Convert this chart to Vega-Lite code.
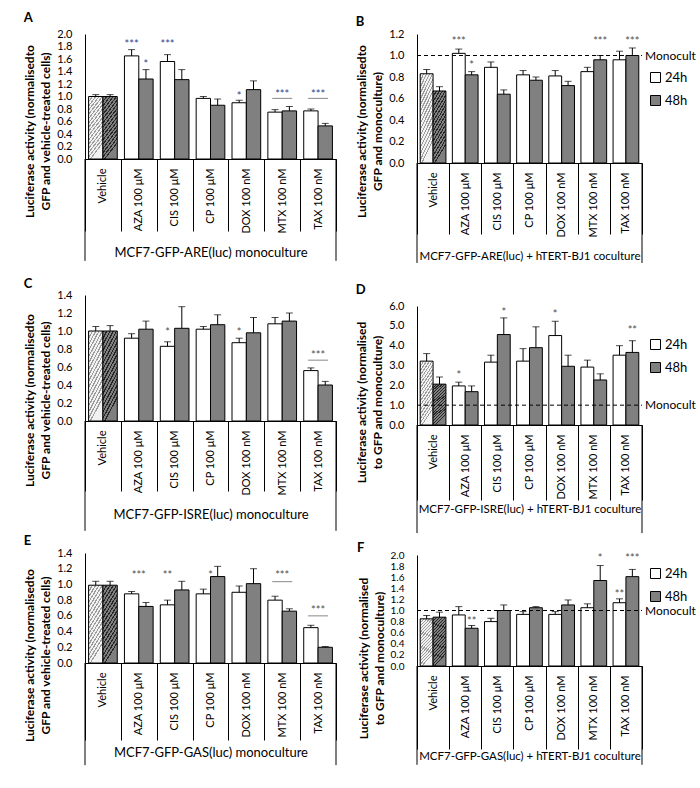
{
"$schema": "https://vega.github.io/schema/vega-lite/v6.json",
"background": "white",
"padding": {"left": 23, "top": 12, "right": 0, "bottom": 0},
"datasets": {"d": [
{"k":"bar","p":"A","cat":"Vehicle","t":"24h","v":1.0,"err":1.03},
{"k":"bar","p":"A","cat":"Vehicle","t":"48h","v":1.0,"err":1.03},
{"k":"bar","p":"A","cat":"AZA 100 μM","t":"24h","v":1.65,"err":1.75},
{"k":"bar","p":"A","cat":"AZA 100 μM","t":"48h","v":1.28,"err":1.43},
{"k":"bar","p":"A","cat":"CIS 100 μM","t":"24h","v":1.56,"err":1.67},
{"k":"bar","p":"A","cat":"CIS 100 μM","t":"48h","v":1.27,"err":1.43},
{"k":"bar","p":"A","cat":"CP 100 μM","t":"24h","v":0.97,"err":1.0},
{"k":"bar","p":"A","cat":"CP 100 μM","t":"48h","v":0.86,"err":0.96},
{"k":"bar","p":"A","cat":"DOX 100 nM","t":"24h","v":0.9,"err":0.94},
{"k":"bar","p":"A","cat":"DOX 100 nM","t":"48h","v":1.11,"err":1.25},
{"k":"bar","p":"A","cat":"MTX 100 nM","t":"24h","v":0.75,"err":0.79},
{"k":"bar","p":"A","cat":"MTX 100 nM","t":"48h","v":0.77,"err":0.84},
{"k":"bar","p":"A","cat":"TAX 100 nM","t":"24h","v":0.77,"err":0.8},
{"k":"bar","p":"A","cat":"TAX 100 nM","t":"48h","v":0.53,"err":0.57},
{"k":"star","p":"A","cat":"AZA 100 μM","t":"24h","label":"***","y":1.88},
{"k":"star","p":"A","cat":"AZA 100 μM","t":"48h","label":"*","y":1.56},
{"k":"star","p":"A","cat":"CIS 100 μM","t":"24h","label":"***","y":1.88},
{"k":"star","p":"A","cat":"DOX 100 nM","t":"24h","label":"*","y":1.04},
{"k":"mid","p":"A","cat":"MTX 100 nM","label":"***","y":1.07},
{"k":"mid","p":"A","cat":"TAX 100 nM","label":"***","y":1.07},
{"k":"sig","p":"A","cat":"MTX 100 nM","y":0.97},
{"k":"sig","p":"A","cat":"TAX 100 nM","y":0.97},

{"k":"bar","p":"B","cat":"Vehicle","t":"24h","v":0.83,"err":0.87},
{"k":"bar","p":"B","cat":"Vehicle","t":"48h","v":0.67,"err":0.71},
{"k":"bar","p":"B","cat":"AZA 100 μM","t":"24h","v":1.02,"err":1.06},
{"k":"bar","p":"B","cat":"AZA 100 μM","t":"48h","v":0.82,"err":0.85},
{"k":"bar","p":"B","cat":"CIS 100 μM","t":"24h","v":0.89,"err":0.94},
{"k":"bar","p":"B","cat":"CIS 100 μM","t":"48h","v":0.64,"err":0.68},
{"k":"bar","p":"B","cat":"CP 100 μM","t":"24h","v":0.82,"err":0.86},
{"k":"bar","p":"B","cat":"CP 100 μM","t":"48h","v":0.77,"err":0.8},
{"k":"bar","p":"B","cat":"DOX 100 nM","t":"24h","v":0.81,"err":0.86},
{"k":"bar","p":"B","cat":"DOX 100 nM","t":"48h","v":0.72,"err":0.76},
{"k":"bar","p":"B","cat":"MTX 100 nM","t":"24h","v":0.85,"err":0.89},
{"k":"bar","p":"B","cat":"MTX 100 nM","t":"48h","v":0.96,"err":1.0},
{"k":"bar","p":"B","cat":"TAX 100 nM","t":"24h","v":0.96,"err":1.04},
{"k":"bar","p":"B","cat":"TAX 100 nM","t":"48h","v":1.0,"err":1.07},
{"k":"star","p":"B","cat":"AZA 100 μM","t":"24h","label":"***","y":1.15},
{"k":"star","p":"B","cat":"AZA 100 μM","t":"48h","label":"*","y":0.93},
{"k":"star","p":"B","cat":"MTX 100 nM","t":"48h","label":"***","y":1.15},
{"k":"star","p":"B","cat":"TAX 100 nM","t":"48h","label":"***","y":1.15},

{"k":"bar","p":"C","cat":"Vehicle","t":"24h","v":1.0,"err":1.05},
{"k":"bar","p":"C","cat":"Vehicle","t":"48h","v":1.0,"err":1.06},
{"k":"bar","p":"C","cat":"AZA 100 μM","t":"24h","v":0.92,"err":0.97},
{"k":"bar","p":"C","cat":"AZA 100 μM","t":"48h","v":1.02,"err":1.11},
{"k":"bar","p":"C","cat":"CIS 100 μM","t":"24h","v":0.83,"err":0.88},
{"k":"bar","p":"C","cat":"CIS 100 μM","t":"48h","v":1.03,"err":1.27},
{"k":"bar","p":"C","cat":"CP 100 μM","t":"24h","v":1.02,"err":1.05},
{"k":"bar","p":"C","cat":"CP 100 μM","t":"48h","v":1.07,"err":1.18},
{"k":"bar","p":"C","cat":"DOX 100 nM","t":"24h","v":0.87,"err":0.92},
{"k":"bar","p":"C","cat":"DOX 100 nM","t":"48h","v":0.98,"err":1.15},
{"k":"bar","p":"C","cat":"MTX 100 nM","t":"24h","v":1.08,"err":1.15},
{"k":"bar","p":"C","cat":"MTX 100 nM","t":"48h","v":1.11,"err":1.2},
{"k":"bar","p":"C","cat":"TAX 100 nM","t":"24h","v":0.56,"err":0.59},
{"k":"bar","p":"C","cat":"TAX 100 nM","t":"48h","v":0.4,"err":0.44},
{"k":"star","p":"C","cat":"CIS 100 μM","t":"24h","label":"*","y":1.01},
{"k":"star","p":"C","cat":"DOX 100 nM","t":"24h","label":"*","y":1.01},
{"k":"mid","p":"C","cat":"TAX 100 nM","label":"***","y":0.76},
{"k":"sig","p":"C","cat":"TAX 100 nM","y":0.676},

{"k":"bar","p":"D","cat":"Vehicle","t":"24h","v":3.22,"err":3.6},
{"k":"bar","p":"D","cat":"Vehicle","t":"48h","v":2.06,"err":2.42},
{"k":"bar","p":"D","cat":"AZA 100 μM","t":"24h","v":1.97,"err":2.16},
{"k":"bar","p":"D","cat":"AZA 100 μM","t":"48h","v":1.68,"err":1.97},
{"k":"bar","p":"D","cat":"CIS 100 μM","t":"24h","v":3.17,"err":3.52},
{"k":"bar","p":"D","cat":"CIS 100 μM","t":"48h","v":4.56,"err":5.4},
{"k":"bar","p":"D","cat":"CP 100 μM","t":"24h","v":3.22,"err":3.85},
{"k":"bar","p":"D","cat":"CP 100 μM","t":"48h","v":3.9,"err":4.95},
{"k":"bar","p":"D","cat":"DOX 100 nM","t":"24h","v":4.51,"err":5.23},
{"k":"bar","p":"D","cat":"DOX 100 nM","t":"48h","v":2.96,"err":3.52},
{"k":"bar","p":"D","cat":"MTX 100 nM","t":"24h","v":2.92,"err":3.27},
{"k":"bar","p":"D","cat":"MTX 100 nM","t":"48h","v":2.27,"err":2.58},
{"k":"bar","p":"D","cat":"TAX 100 nM","t":"24h","v":3.52,"err":4.0},
{"k":"bar","p":"D","cat":"TAX 100 nM","t":"48h","v":3.66,"err":4.25},
{"k":"star","p":"D","cat":"AZA 100 μM","t":"24h","label":"*","y":2.6},
{"k":"star","p":"D","cat":"CIS 100 μM","t":"48h","label":"*","y":5.8},
{"k":"star","p":"D","cat":"DOX 100 nM","t":"24h","label":"*","y":5.7},
{"k":"star","p":"D","cat":"TAX 100 nM","t":"48h","label":"**","y":4.87},

{"k":"bar","p":"E","cat":"Vehicle","t":"24h","v":0.99,"err":1.04},
{"k":"bar","p":"E","cat":"Vehicle","t":"48h","v":0.99,"err":1.04},
{"k":"bar","p":"E","cat":"AZA 100 μM","t":"24h","v":0.88,"err":0.91},
{"k":"bar","p":"E","cat":"AZA 100 μM","t":"48h","v":0.72,"err":0.77},
{"k":"bar","p":"E","cat":"CIS 100 μM","t":"24h","v":0.74,"err":0.8},
{"k":"bar","p":"E","cat":"CIS 100 μM","t":"48h","v":0.93,"err":1.04},
{"k":"bar","p":"E","cat":"CP 100 μM","t":"24h","v":0.88,"err":0.94},
{"k":"bar","p":"E","cat":"CP 100 μM","t":"48h","v":1.1,"err":1.23},
{"k":"bar","p":"E","cat":"DOX 100 nM","t":"24h","v":0.9,"err":0.98},
{"k":"bar","p":"E","cat":"DOX 100 nM","t":"48h","v":1.01,"err":1.2},
{"k":"bar","p":"E","cat":"MTX 100 nM","t":"24h","v":0.8,"err":0.85},
{"k":"bar","p":"E","cat":"MTX 100 nM","t":"48h","v":0.66,"err":0.69},
{"k":"bar","p":"E","cat":"TAX 100 nM","t":"24h","v":0.45,"err":0.48},
{"k":"bar","p":"E","cat":"TAX 100 nM","t":"48h","v":0.2,"err":0.21},
{"k":"mid","p":"E","cat":"AZA 100 μM","label":"***","y":1.14},
{"k":"star","p":"E","cat":"CIS 100 μM","t":"24h","label":"**","y":1.14},
{"k":"mid","p":"E","cat":"CP 100 μM","label":"*","y":1.14},
{"k":"mid","p":"E","cat":"MTX 100 nM","label":"***","y":1.14},
{"k":"mid","p":"E","cat":"TAX 100 nM","label":"***","y":0.7},
{"k":"sig","p":"E","cat":"MTX 100 nM","y":1.035},
{"k":"sig","p":"E","cat":"TAX 100 nM","y":0.6},

{"k":"bar","p":"F","cat":"Vehicle","t":"24h","v":0.85,"err":0.91},
{"k":"bar","p":"F","cat":"Vehicle","t":"48h","v":0.88,"err":0.97},
{"k":"bar","p":"F","cat":"AZA 100 μM","t":"24h","v":0.92,"err":1.07},
{"k":"bar","p":"F","cat":"AZA 100 μM","t":"48h","v":0.68,"err":0.73},
{"k":"bar","p":"F","cat":"CIS 100 μM","t":"24h","v":0.8,"err":0.86},
{"k":"bar","p":"F","cat":"CIS 100 μM","t":"48h","v":1.0,"err":1.1},
{"k":"bar","p":"F","cat":"CP 100 μM","t":"24h","v":0.93,"err":0.98},
{"k":"bar","p":"F","cat":"CP 100 μM","t":"48h","v":1.05,"err":1.07},
{"k":"bar","p":"F","cat":"DOX 100 nM","t":"24h","v":0.93,"err":0.98},
{"k":"bar","p":"F","cat":"DOX 100 nM","t":"48h","v":1.1,"err":1.19},
{"k":"bar","p":"F","cat":"MTX 100 nM","t":"24h","v":1.05,"err":1.12},
{"k":"bar","p":"F","cat":"MTX 100 nM","t":"48h","v":1.54,"err":1.81},
{"k":"bar","p":"F","cat":"TAX 100 nM","t":"24h","v":1.14,"err":1.21},
{"k":"bar","p":"F","cat":"TAX 100 nM","t":"48h","v":1.61,"err":1.74},
{"k":"star","p":"F","cat":"AZA 100 μM","t":"48h","label":"**","y":0.85},
{"k":"star","p":"F","cat":"MTX 100 nM","t":"48h","label":"*","y":1.99},
{"k":"star","p":"F","cat":"TAX 100 nM","t":"24h","label":"**","y":1.33},
{"k":"star","p":"F","cat":"TAX 100 nM","t":"48h","label":"***","y":1.99}
]},
"spacing": 18,
"resolve": {"scale": {"x": "independent", "y": "independent", "xOffset": "independent", "fill": "independent"}, "legend": {"fill": "independent"}},
"hconcat": [
{"spacing": 3,
 "resolve": {"scale": {"x": "independent", "y": "independent", "xOffset": "independent", "fill": "independent"}, "legend": {"fill": "independent"}},
 "vconcat": [
 {"spacing": 16,
  "resolve": {"scale": {"x": "independent", "y": "independent", "xOffset": "independent", "fill": "independent"}, "legend": {"fill": "independent"}},
  "vconcat": [
{
"width": 251, "height": 125,
"title": {"text": "A", "offset": 3},
"data": {"name": "d"},
"transform": [{"filter": "datum.p === 'A'"}],
"encoding": {"x": {"field": "cat", "type": "nominal", "scale": {"domain": ["Vehicle","AZA 100 μM","CIS 100 μM","CP 100 μM","DOX 100 nM","MTX 100 nM","TAX 100 nM"], "paddingInner": 0, "paddingOuter": 0}, "axis": {"title": "MCF7-GFP-ARE(luc) monoculture", "titleFontSize": 13, "tickSize": 72, "labelPadding": -63, "titlePadding": 13, "labelAngle": -90, "tickBand": "extent", "labelOverlap": false}}},
"layer": [
{"transform": [{"filter": "datum.k === 'bar' && datum.cat !== 'Vehicle'"}], "mark": {"type": "bar", "stroke": "#000", "strokeWidth": 1},
 "encoding": {"xOffset": {"field": "t", "type": "nominal", "scale": {"domain": ["24h","48h"], "paddingInner": 0, "paddingOuter": 0.25}},
  "y": {"field": "v", "type": "quantitative", "scale": {"domain": [0, 2]}, "axis": {"title": ["Luciferase activity (normalisedto", "GFP and vehicle-treated cells)"], "titleY": 97, "tickCount": 30, "labelOverlap": false, "values": [0,0.2,0.4,0.6,0.8,1,1.2,1.4,1.6,1.8,2]}},
  "fill": {"field": "t", "type": "nominal", "scale": {"domain": ["24h","48h"], "range": ["#ffffff","#808080"]}, "legend": null}}},
{"transform": [{"filter": "datum.k === 'bar' && datum.cat === 'Vehicle' && datum.t === '24h'"}], "mark": {"type": "bar", "stroke": "#000", "strokeWidth": 1, "fill": {"gradient": "linear", "x1": 0.3, "y1": 1, "x2": 0, "y2": 0, "stops": [{"offset":0,"color":"#f2f2f2"},{"offset":0.0375,"color":"#f2f2f2"},{"offset":0.0375,"color":"#9c9c9c"},{"offset":0.0625,"color":"#9c9c9c"},{"offset":0.0625,"color":"#f2f2f2"},{"offset":0.1,"color":"#f2f2f2"},{"offset":0.1,"color":"#9c9c9c"},{"offset":0.125,"color":"#9c9c9c"},{"offset":0.125,"color":"#f2f2f2"},{"offset":0.1625,"color":"#f2f2f2"},{"offset":0.1625,"color":"#9c9c9c"},{"offset":0.1875,"color":"#9c9c9c"},{"offset":0.1875,"color":"#f2f2f2"},{"offset":0.225,"color":"#f2f2f2"},{"offset":0.225,"color":"#9c9c9c"},{"offset":0.25,"color":"#9c9c9c"},{"offset":0.25,"color":"#f2f2f2"},{"offset":0.2875,"color":"#f2f2f2"},{"offset":0.2875,"color":"#9c9c9c"},{"offset":0.3125,"color":"#9c9c9c"},{"offset":0.3125,"color":"#f2f2f2"},{"offset":0.35,"color":"#f2f2f2"},{"offset":0.35,"color":"#9c9c9c"},{"offset":0.375,"color":"#9c9c9c"},{"offset":0.375,"color":"#f2f2f2"},{"offset":0.4125,"color":"#f2f2f2"},{"offset":0.4125,"color":"#9c9c9c"},{"offset":0.4375,"color":"#9c9c9c"},{"offset":0.4375,"color":"#f2f2f2"},{"offset":0.475,"color":"#f2f2f2"},{"offset":0.475,"color":"#9c9c9c"},{"offset":0.5,"color":"#9c9c9c"},{"offset":0.5,"color":"#f2f2f2"},{"offset":0.5375,"color":"#f2f2f2"},{"offset":0.5375,"color":"#9c9c9c"},{"offset":0.5625,"color":"#9c9c9c"},{"offset":0.5625,"color":"#f2f2f2"},{"offset":0.6,"color":"#f2f2f2"},{"offset":0.6,"color":"#9c9c9c"},{"offset":0.625,"color":"#9c9c9c"},{"offset":0.625,"color":"#f2f2f2"},{"offset":0.6625,"color":"#f2f2f2"},{"offset":0.6625,"color":"#9c9c9c"},{"offset":0.6875,"color":"#9c9c9c"},{"offset":0.6875,"color":"#f2f2f2"},{"offset":0.725,"color":"#f2f2f2"},{"offset":0.725,"color":"#9c9c9c"},{"offset":0.75,"color":"#9c9c9c"},{"offset":0.75,"color":"#f2f2f2"},{"offset":0.7875,"color":"#f2f2f2"},{"offset":0.7875,"color":"#9c9c9c"},{"offset":0.8125,"color":"#9c9c9c"},{"offset":0.8125,"color":"#f2f2f2"},{"offset":0.85,"color":"#f2f2f2"},{"offset":0.85,"color":"#9c9c9c"},{"offset":0.875,"color":"#9c9c9c"},{"offset":0.875,"color":"#f2f2f2"},{"offset":0.9125,"color":"#f2f2f2"},{"offset":0.9125,"color":"#9c9c9c"},{"offset":0.9375,"color":"#9c9c9c"},{"offset":0.9375,"color":"#f2f2f2"},{"offset":0.975,"color":"#f2f2f2"},{"offset":0.975,"color":"#9c9c9c"},{"offset":1,"color":"#9c9c9c"}]}},
 "encoding": {"xOffset": {"field": "t", "type": "nominal"}, "y": {"field": "v", "type": "quantitative"}}},
{"transform": [{"filter": "datum.k === 'bar' && datum.cat === 'Vehicle' && datum.t === '48h'"}], "mark": {"type": "bar", "stroke": "#000", "strokeWidth": 1, "fill": {"gradient": "linear", "x1": 0.3, "y1": 1, "x2": 0, "y2": 0, "stops": [{"offset":0,"color":"#7f7f7f"},{"offset":0.0375,"color":"#7f7f7f"},{"offset":0.0375,"color":"#262626"},{"offset":0.0625,"color":"#262626"},{"offset":0.0625,"color":"#7f7f7f"},{"offset":0.1,"color":"#7f7f7f"},{"offset":0.1,"color":"#262626"},{"offset":0.125,"color":"#262626"},{"offset":0.125,"color":"#7f7f7f"},{"offset":0.1625,"color":"#7f7f7f"},{"offset":0.1625,"color":"#262626"},{"offset":0.1875,"color":"#262626"},{"offset":0.1875,"color":"#7f7f7f"},{"offset":0.225,"color":"#7f7f7f"},{"offset":0.225,"color":"#262626"},{"offset":0.25,"color":"#262626"},{"offset":0.25,"color":"#7f7f7f"},{"offset":0.2875,"color":"#7f7f7f"},{"offset":0.2875,"color":"#262626"},{"offset":0.3125,"color":"#262626"},{"offset":0.3125,"color":"#7f7f7f"},{"offset":0.35,"color":"#7f7f7f"},{"offset":0.35,"color":"#262626"},{"offset":0.375,"color":"#262626"},{"offset":0.375,"color":"#7f7f7f"},{"offset":0.4125,"color":"#7f7f7f"},{"offset":0.4125,"color":"#262626"},{"offset":0.4375,"color":"#262626"},{"offset":0.4375,"color":"#7f7f7f"},{"offset":0.475,"color":"#7f7f7f"},{"offset":0.475,"color":"#262626"},{"offset":0.5,"color":"#262626"},{"offset":0.5,"color":"#7f7f7f"},{"offset":0.5375,"color":"#7f7f7f"},{"offset":0.5375,"color":"#262626"},{"offset":0.5625,"color":"#262626"},{"offset":0.5625,"color":"#7f7f7f"},{"offset":0.6,"color":"#7f7f7f"},{"offset":0.6,"color":"#262626"},{"offset":0.625,"color":"#262626"},{"offset":0.625,"color":"#7f7f7f"},{"offset":0.6625,"color":"#7f7f7f"},{"offset":0.6625,"color":"#262626"},{"offset":0.6875,"color":"#262626"},{"offset":0.6875,"color":"#7f7f7f"},{"offset":0.725,"color":"#7f7f7f"},{"offset":0.725,"color":"#262626"},{"offset":0.75,"color":"#262626"},{"offset":0.75,"color":"#7f7f7f"},{"offset":0.7875,"color":"#7f7f7f"},{"offset":0.7875,"color":"#262626"},{"offset":0.8125,"color":"#262626"},{"offset":0.8125,"color":"#7f7f7f"},{"offset":0.85,"color":"#7f7f7f"},{"offset":0.85,"color":"#262626"},{"offset":0.875,"color":"#262626"},{"offset":0.875,"color":"#7f7f7f"},{"offset":0.9125,"color":"#7f7f7f"},{"offset":0.9125,"color":"#262626"},{"offset":0.9375,"color":"#262626"},{"offset":0.9375,"color":"#7f7f7f"},{"offset":0.975,"color":"#7f7f7f"},{"offset":0.975,"color":"#262626"},{"offset":1,"color":"#262626"}]}},
 "encoding": {"xOffset": {"field": "t", "type": "nominal"}, "y": {"field": "v", "type": "quantitative"}}},
{"transform": [{"filter": "datum.k === 'bar'"}], "mark": {"type": "rule", "color": "#000"},
 "encoding": {"xOffset": {"field": "t", "type": "nominal"}, "y": {"field": "v", "type": "quantitative"}, "y2": {"field": "err"}}},
{"transform": [{"filter": "datum.k === 'bar'"}], "mark": {"type": "tick", "color": "#000", "size": 7, "thickness": 1},
 "encoding": {"xOffset": {"field": "t", "type": "nominal"}, "y": {"field": "err", "type": "quantitative"}}},
{"transform": [{"filter": "datum.k === 'star'"}], "mark": {"type": "text", "fontSize": 11, "color": "#2a3f8f", "dy": 3},
 "encoding": {"xOffset": {"field": "t", "type": "nominal"}, "y": {"field": "y", "type": "quantitative"}, "text": {"field": "label"}}},
{"transform": [{"filter": "datum.k === 'mid'"}], "mark": {"type": "text", "fontSize": 11, "color": "#2a3f8f", "dy": 3},
 "encoding": {"y": {"field": "y", "type": "quantitative"}, "text": {"field": "label"}}},
{"transform": [{"filter": "datum.k === 'sig'"}], "mark": {"type": "tick", "color": "#555555", "size": 20, "thickness": 1},
 "encoding": {"y": {"field": "y", "type": "quantitative"}}},
{"transform": [{"filter": "datum.k === 'bar' && datum.cat === 'Vehicle' && datum.t === '24h'"}], "mark": {"type": "rule", "color": "#000"},
 "encoding": {"x": {"field": "cat", "type": "nominal", "bandPosition": 0, "scale": {"domain": ["Vehicle","AZA 100 μM","CIS 100 μM","CP 100 μM","DOX 100 nM","MTX 100 nM","TAX 100 nM"]}}, "y": {"datum": 0}, "y2": {"datum": -1.63}}},
{"transform": [{"filter": "datum.k === 'bar' && datum.cat === 'TAX 100 nM' && datum.t === '24h'"}], "mark": {"type": "rule", "color": "#000"},
 "encoding": {"x": {"field": "cat", "type": "nominal", "bandPosition": 1, "scale": {"domain": ["Vehicle","AZA 100 μM","CIS 100 μM","CP 100 μM","DOX 100 nM","MTX 100 nM","TAX 100 nM"]}}, "y": {"datum": 0}, "y2": {"datum": -1.63}}}
]
},
{
"width": 251, "height": 126,
"title": {"text": "C", "offset": -2},
"data": {"name": "d"},
"transform": [{"filter": "datum.p === 'C'"}],
"encoding": {"x": {"field": "cat", "type": "nominal", "scale": {"domain": ["Vehicle","AZA 100 μM","CIS 100 μM","CP 100 μM","DOX 100 nM","MTX 100 nM","TAX 100 nM"], "paddingInner": 0, "paddingOuter": 0}, "axis": {"title": "MCF7-GFP-ISRE(luc) monoculture", "titleFontSize": 13, "tickSize": 70, "labelPadding": -61, "titlePadding": 13, "labelAngle": -90, "tickBand": "extent", "labelOverlap": false}}},
"layer": [
{"transform": [{"filter": "datum.k === 'bar' && datum.cat !== 'Vehicle'"}], "mark": {"type": "bar", "stroke": "#000", "strokeWidth": 1},
 "encoding": {"xOffset": {"field": "t", "type": "nominal", "scale": {"domain": ["24h","48h"], "paddingInner": 0, "paddingOuter": 0.25}},
  "y": {"field": "v", "type": "quantitative", "scale": {"domain": [0, 1.4]}, "axis": {"title": ["Luciferase activity (normalisedto", "GFP and vehicle-treated cells)"], "titleY": 105, "tickCount": 30, "labelOverlap": false, "values": [0,0.2,0.4,0.6,0.8,1,1.2,1.4]}},
  "fill": {"field": "t", "type": "nominal", "scale": {"domain": ["24h","48h"], "range": ["#ffffff","#808080"]}, "legend": null}}},
{"transform": [{"filter": "datum.k === 'bar' && datum.cat === 'Vehicle' && datum.t === '24h'"}], "mark": {"type": "bar", "stroke": "#000", "strokeWidth": 1, "fill": {"gradient": "linear", "x1": 0.3, "y1": 1, "x2": 0, "y2": 0, "stops": [{"offset":0,"color":"#f2f2f2"},{"offset":0.0375,"color":"#f2f2f2"},{"offset":0.0375,"color":"#9c9c9c"},{"offset":0.0625,"color":"#9c9c9c"},{"offset":0.0625,"color":"#f2f2f2"},{"offset":0.1,"color":"#f2f2f2"},{"offset":0.1,"color":"#9c9c9c"},{"offset":0.125,"color":"#9c9c9c"},{"offset":0.125,"color":"#f2f2f2"},{"offset":0.1625,"color":"#f2f2f2"},{"offset":0.1625,"color":"#9c9c9c"},{"offset":0.1875,"color":"#9c9c9c"},{"offset":0.1875,"color":"#f2f2f2"},{"offset":0.225,"color":"#f2f2f2"},{"offset":0.225,"color":"#9c9c9c"},{"offset":0.25,"color":"#9c9c9c"},{"offset":0.25,"color":"#f2f2f2"},{"offset":0.2875,"color":"#f2f2f2"},{"offset":0.2875,"color":"#9c9c9c"},{"offset":0.3125,"color":"#9c9c9c"},{"offset":0.3125,"color":"#f2f2f2"},{"offset":0.35,"color":"#f2f2f2"},{"offset":0.35,"color":"#9c9c9c"},{"offset":0.375,"color":"#9c9c9c"},{"offset":0.375,"color":"#f2f2f2"},{"offset":0.4125,"color":"#f2f2f2"},{"offset":0.4125,"color":"#9c9c9c"},{"offset":0.4375,"color":"#9c9c9c"},{"offset":0.4375,"color":"#f2f2f2"},{"offset":0.475,"color":"#f2f2f2"},{"offset":0.475,"color":"#9c9c9c"},{"offset":0.5,"color":"#9c9c9c"},{"offset":0.5,"color":"#f2f2f2"},{"offset":0.5375,"color":"#f2f2f2"},{"offset":0.5375,"color":"#9c9c9c"},{"offset":0.5625,"color":"#9c9c9c"},{"offset":0.5625,"color":"#f2f2f2"},{"offset":0.6,"color":"#f2f2f2"},{"offset":0.6,"color":"#9c9c9c"},{"offset":0.625,"color":"#9c9c9c"},{"offset":0.625,"color":"#f2f2f2"},{"offset":0.6625,"color":"#f2f2f2"},{"offset":0.6625,"color":"#9c9c9c"},{"offset":0.6875,"color":"#9c9c9c"},{"offset":0.6875,"color":"#f2f2f2"},{"offset":0.725,"color":"#f2f2f2"},{"offset":0.725,"color":"#9c9c9c"},{"offset":0.75,"color":"#9c9c9c"},{"offset":0.75,"color":"#f2f2f2"},{"offset":0.7875,"color":"#f2f2f2"},{"offset":0.7875,"color":"#9c9c9c"},{"offset":0.8125,"color":"#9c9c9c"},{"offset":0.8125,"color":"#f2f2f2"},{"offset":0.85,"color":"#f2f2f2"},{"offset":0.85,"color":"#9c9c9c"},{"offset":0.875,"color":"#9c9c9c"},{"offset":0.875,"color":"#f2f2f2"},{"offset":0.9125,"color":"#f2f2f2"},{"offset":0.9125,"color":"#9c9c9c"},{"offset":0.9375,"color":"#9c9c9c"},{"offset":0.9375,"color":"#f2f2f2"},{"offset":0.975,"color":"#f2f2f2"},{"offset":0.975,"color":"#9c9c9c"},{"offset":1,"color":"#9c9c9c"}]}},
 "encoding": {"xOffset": {"field": "t", "type": "nominal"}, "y": {"field": "v", "type": "quantitative"}}},
{"transform": [{"filter": "datum.k === 'bar' && datum.cat === 'Vehicle' && datum.t === '48h'"}], "mark": {"type": "bar", "stroke": "#000", "strokeWidth": 1, "fill": {"gradient": "linear", "x1": 0.3, "y1": 1, "x2": 0, "y2": 0, "stops": [{"offset":0,"color":"#7f7f7f"},{"offset":0.0375,"color":"#7f7f7f"},{"offset":0.0375,"color":"#262626"},{"offset":0.0625,"color":"#262626"},{"offset":0.0625,"color":"#7f7f7f"},{"offset":0.1,"color":"#7f7f7f"},{"offset":0.1,"color":"#262626"},{"offset":0.125,"color":"#262626"},{"offset":0.125,"color":"#7f7f7f"},{"offset":0.1625,"color":"#7f7f7f"},{"offset":0.1625,"color":"#262626"},{"offset":0.1875,"color":"#262626"},{"offset":0.1875,"color":"#7f7f7f"},{"offset":0.225,"color":"#7f7f7f"},{"offset":0.225,"color":"#262626"},{"offset":0.25,"color":"#262626"},{"offset":0.25,"color":"#7f7f7f"},{"offset":0.2875,"color":"#7f7f7f"},{"offset":0.2875,"color":"#262626"},{"offset":0.3125,"color":"#262626"},{"offset":0.3125,"color":"#7f7f7f"},{"offset":0.35,"color":"#7f7f7f"},{"offset":0.35,"color":"#262626"},{"offset":0.375,"color":"#262626"},{"offset":0.375,"color":"#7f7f7f"},{"offset":0.4125,"color":"#7f7f7f"},{"offset":0.4125,"color":"#262626"},{"offset":0.4375,"color":"#262626"},{"offset":0.4375,"color":"#7f7f7f"},{"offset":0.475,"color":"#7f7f7f"},{"offset":0.475,"color":"#262626"},{"offset":0.5,"color":"#262626"},{"offset":0.5,"color":"#7f7f7f"},{"offset":0.5375,"color":"#7f7f7f"},{"offset":0.5375,"color":"#262626"},{"offset":0.5625,"color":"#262626"},{"offset":0.5625,"color":"#7f7f7f"},{"offset":0.6,"color":"#7f7f7f"},{"offset":0.6,"color":"#262626"},{"offset":0.625,"color":"#262626"},{"offset":0.625,"color":"#7f7f7f"},{"offset":0.6625,"color":"#7f7f7f"},{"offset":0.6625,"color":"#262626"},{"offset":0.6875,"color":"#262626"},{"offset":0.6875,"color":"#7f7f7f"},{"offset":0.725,"color":"#7f7f7f"},{"offset":0.725,"color":"#262626"},{"offset":0.75,"color":"#262626"},{"offset":0.75,"color":"#7f7f7f"},{"offset":0.7875,"color":"#7f7f7f"},{"offset":0.7875,"color":"#262626"},{"offset":0.8125,"color":"#262626"},{"offset":0.8125,"color":"#7f7f7f"},{"offset":0.85,"color":"#7f7f7f"},{"offset":0.85,"color":"#262626"},{"offset":0.875,"color":"#262626"},{"offset":0.875,"color":"#7f7f7f"},{"offset":0.9125,"color":"#7f7f7f"},{"offset":0.9125,"color":"#262626"},{"offset":0.9375,"color":"#262626"},{"offset":0.9375,"color":"#7f7f7f"},{"offset":0.975,"color":"#7f7f7f"},{"offset":0.975,"color":"#262626"},{"offset":1,"color":"#262626"}]}},
 "encoding": {"xOffset": {"field": "t", "type": "nominal"}, "y": {"field": "v", "type": "quantitative"}}},
{"transform": [{"filter": "datum.k === 'bar'"}], "mark": {"type": "rule", "color": "#000"},
 "encoding": {"xOffset": {"field": "t", "type": "nominal"}, "y": {"field": "v", "type": "quantitative"}, "y2": {"field": "err"}}},
{"transform": [{"filter": "datum.k === 'bar'"}], "mark": {"type": "tick", "color": "#000", "size": 7, "thickness": 1},
 "encoding": {"xOffset": {"field": "t", "type": "nominal"}, "y": {"field": "err", "type": "quantitative"}}},
{"transform": [{"filter": "datum.k === 'star'"}], "mark": {"type": "text", "fontSize": 11, "color": "#505050", "dy": 3},
 "encoding": {"xOffset": {"field": "t", "type": "nominal"}, "y": {"field": "y", "type": "quantitative"}, "text": {"field": "label"}}},
{"transform": [{"filter": "datum.k === 'mid'"}], "mark": {"type": "text", "fontSize": 11, "color": "#505050", "dy": 3},
 "encoding": {"y": {"field": "y", "type": "quantitative"}, "text": {"field": "label"}}},
{"transform": [{"filter": "datum.k === 'sig'"}], "mark": {"type": "tick", "color": "#555555", "size": 20, "thickness": 1},
 "encoding": {"y": {"field": "y", "type": "quantitative"}}},
{"transform": [{"filter": "datum.k === 'bar' && datum.cat === 'Vehicle' && datum.t === '24h'"}], "mark": {"type": "rule", "color": "#000"},
 "encoding": {"x": {"field": "cat", "type": "nominal", "bandPosition": 0, "scale": {"domain": ["Vehicle","AZA 100 μM","CIS 100 μM","CP 100 μM","DOX 100 nM","MTX 100 nM","TAX 100 nM"]}}, "y": {"datum": 0}, "y2": {"datum": -1.22}}},
{"transform": [{"filter": "datum.k === 'bar' && datum.cat === 'TAX 100 nM' && datum.t === '24h'"}], "mark": {"type": "rule", "color": "#000"},
 "encoding": {"x": {"field": "cat", "type": "nominal", "bandPosition": 1, "scale": {"domain": ["Vehicle","AZA 100 μM","CIS 100 μM","CP 100 μM","DOX 100 nM","MTX 100 nM","TAX 100 nM"]}}, "y": {"datum": 0}, "y2": {"datum": -1.22}}}
]
}
 ]},
{
"width": 251, "height": 110,
"title": {"text": "E", "offset": -1},
"data": {"name": "d"},
"transform": [{"filter": "datum.p === 'E'"}],
"encoding": {"x": {"field": "cat", "type": "nominal", "scale": {"domain": ["Vehicle","AZA 100 μM","CIS 100 μM","CP 100 μM","DOX 100 nM","MTX 100 nM","TAX 100 nM"], "paddingInner": 0, "paddingOuter": 0}, "axis": {"title": "MCF7-GFP-GAS(luc) monoculture", "titleFontSize": 13, "tickSize": 77, "labelPadding": -68, "titlePadding": 6, "labelAngle": -90, "tickBand": "extent", "labelOverlap": false}}},
"layer": [
{"transform": [{"filter": "datum.k === 'bar' && datum.cat !== 'Vehicle'"}], "mark": {"type": "bar", "stroke": "#000", "strokeWidth": 1},
 "encoding": {"xOffset": {"field": "t", "type": "nominal", "scale": {"domain": ["24h","48h"], "paddingInner": 0, "paddingOuter": 0.25}},
  "y": {"field": "v", "type": "quantitative", "scale": {"domain": [0, 1.4]}, "axis": {"title": ["Luciferase activity (normalisedto", "GFP and vehicle-treated cells)"], "titleY": 102, "tickCount": 30, "labelOverlap": false, "values": [0,0.2,0.4,0.6,0.8,1,1.2,1.4]}},
  "fill": {"field": "t", "type": "nominal", "scale": {"domain": ["24h","48h"], "range": ["#ffffff","#808080"]}, "legend": null}}},
{"transform": [{"filter": "datum.k === 'bar' && datum.cat === 'Vehicle' && datum.t === '24h'"}], "mark": {"type": "bar", "stroke": "#000", "strokeWidth": 1, "fill": {"gradient": "linear", "x1": 0.3, "y1": 1, "x2": 0, "y2": 0, "stops": [{"offset":0,"color":"#f2f2f2"},{"offset":0.0375,"color":"#f2f2f2"},{"offset":0.0375,"color":"#9c9c9c"},{"offset":0.0625,"color":"#9c9c9c"},{"offset":0.0625,"color":"#f2f2f2"},{"offset":0.1,"color":"#f2f2f2"},{"offset":0.1,"color":"#9c9c9c"},{"offset":0.125,"color":"#9c9c9c"},{"offset":0.125,"color":"#f2f2f2"},{"offset":0.1625,"color":"#f2f2f2"},{"offset":0.1625,"color":"#9c9c9c"},{"offset":0.1875,"color":"#9c9c9c"},{"offset":0.1875,"color":"#f2f2f2"},{"offset":0.225,"color":"#f2f2f2"},{"offset":0.225,"color":"#9c9c9c"},{"offset":0.25,"color":"#9c9c9c"},{"offset":0.25,"color":"#f2f2f2"},{"offset":0.2875,"color":"#f2f2f2"},{"offset":0.2875,"color":"#9c9c9c"},{"offset":0.3125,"color":"#9c9c9c"},{"offset":0.3125,"color":"#f2f2f2"},{"offset":0.35,"color":"#f2f2f2"},{"offset":0.35,"color":"#9c9c9c"},{"offset":0.375,"color":"#9c9c9c"},{"offset":0.375,"color":"#f2f2f2"},{"offset":0.4125,"color":"#f2f2f2"},{"offset":0.4125,"color":"#9c9c9c"},{"offset":0.4375,"color":"#9c9c9c"},{"offset":0.4375,"color":"#f2f2f2"},{"offset":0.475,"color":"#f2f2f2"},{"offset":0.475,"color":"#9c9c9c"},{"offset":0.5,"color":"#9c9c9c"},{"offset":0.5,"color":"#f2f2f2"},{"offset":0.5375,"color":"#f2f2f2"},{"offset":0.5375,"color":"#9c9c9c"},{"offset":0.5625,"color":"#9c9c9c"},{"offset":0.5625,"color":"#f2f2f2"},{"offset":0.6,"color":"#f2f2f2"},{"offset":0.6,"color":"#9c9c9c"},{"offset":0.625,"color":"#9c9c9c"},{"offset":0.625,"color":"#f2f2f2"},{"offset":0.6625,"color":"#f2f2f2"},{"offset":0.6625,"color":"#9c9c9c"},{"offset":0.6875,"color":"#9c9c9c"},{"offset":0.6875,"color":"#f2f2f2"},{"offset":0.725,"color":"#f2f2f2"},{"offset":0.725,"color":"#9c9c9c"},{"offset":0.75,"color":"#9c9c9c"},{"offset":0.75,"color":"#f2f2f2"},{"offset":0.7875,"color":"#f2f2f2"},{"offset":0.7875,"color":"#9c9c9c"},{"offset":0.8125,"color":"#9c9c9c"},{"offset":0.8125,"color":"#f2f2f2"},{"offset":0.85,"color":"#f2f2f2"},{"offset":0.85,"color":"#9c9c9c"},{"offset":0.875,"color":"#9c9c9c"},{"offset":0.875,"color":"#f2f2f2"},{"offset":0.9125,"color":"#f2f2f2"},{"offset":0.9125,"color":"#9c9c9c"},{"offset":0.9375,"color":"#9c9c9c"},{"offset":0.9375,"color":"#f2f2f2"},{"offset":0.975,"color":"#f2f2f2"},{"offset":0.975,"color":"#9c9c9c"},{"offset":1,"color":"#9c9c9c"}]}},
 "encoding": {"xOffset": {"field": "t", "type": "nominal"}, "y": {"field": "v", "type": "quantitative"}}},
{"transform": [{"filter": "datum.k === 'bar' && datum.cat === 'Vehicle' && datum.t === '48h'"}], "mark": {"type": "bar", "stroke": "#000", "strokeWidth": 1, "fill": {"gradient": "linear", "x1": 0.3, "y1": 1, "x2": 0, "y2": 0, "stops": [{"offset":0,"color":"#7f7f7f"},{"offset":0.0375,"color":"#7f7f7f"},{"offset":0.0375,"color":"#262626"},{"offset":0.0625,"color":"#262626"},{"offset":0.0625,"color":"#7f7f7f"},{"offset":0.1,"color":"#7f7f7f"},{"offset":0.1,"color":"#262626"},{"offset":0.125,"color":"#262626"},{"offset":0.125,"color":"#7f7f7f"},{"offset":0.1625,"color":"#7f7f7f"},{"offset":0.1625,"color":"#262626"},{"offset":0.1875,"color":"#262626"},{"offset":0.1875,"color":"#7f7f7f"},{"offset":0.225,"color":"#7f7f7f"},{"offset":0.225,"color":"#262626"},{"offset":0.25,"color":"#262626"},{"offset":0.25,"color":"#7f7f7f"},{"offset":0.2875,"color":"#7f7f7f"},{"offset":0.2875,"color":"#262626"},{"offset":0.3125,"color":"#262626"},{"offset":0.3125,"color":"#7f7f7f"},{"offset":0.35,"color":"#7f7f7f"},{"offset":0.35,"color":"#262626"},{"offset":0.375,"color":"#262626"},{"offset":0.375,"color":"#7f7f7f"},{"offset":0.4125,"color":"#7f7f7f"},{"offset":0.4125,"color":"#262626"},{"offset":0.4375,"color":"#262626"},{"offset":0.4375,"color":"#7f7f7f"},{"offset":0.475,"color":"#7f7f7f"},{"offset":0.475,"color":"#262626"},{"offset":0.5,"color":"#262626"},{"offset":0.5,"color":"#7f7f7f"},{"offset":0.5375,"color":"#7f7f7f"},{"offset":0.5375,"color":"#262626"},{"offset":0.5625,"color":"#262626"},{"offset":0.5625,"color":"#7f7f7f"},{"offset":0.6,"color":"#7f7f7f"},{"offset":0.6,"color":"#262626"},{"offset":0.625,"color":"#262626"},{"offset":0.625,"color":"#7f7f7f"},{"offset":0.6625,"color":"#7f7f7f"},{"offset":0.6625,"color":"#262626"},{"offset":0.6875,"color":"#262626"},{"offset":0.6875,"color":"#7f7f7f"},{"offset":0.725,"color":"#7f7f7f"},{"offset":0.725,"color":"#262626"},{"offset":0.75,"color":"#262626"},{"offset":0.75,"color":"#7f7f7f"},{"offset":0.7875,"color":"#7f7f7f"},{"offset":0.7875,"color":"#262626"},{"offset":0.8125,"color":"#262626"},{"offset":0.8125,"color":"#7f7f7f"},{"offset":0.85,"color":"#7f7f7f"},{"offset":0.85,"color":"#262626"},{"offset":0.875,"color":"#262626"},{"offset":0.875,"color":"#7f7f7f"},{"offset":0.9125,"color":"#7f7f7f"},{"offset":0.9125,"color":"#262626"},{"offset":0.9375,"color":"#262626"},{"offset":0.9375,"color":"#7f7f7f"},{"offset":0.975,"color":"#7f7f7f"},{"offset":0.975,"color":"#262626"},{"offset":1,"color":"#262626"}]}},
 "encoding": {"xOffset": {"field": "t", "type": "nominal"}, "y": {"field": "v", "type": "quantitative"}}},
{"transform": [{"filter": "datum.k === 'bar'"}], "mark": {"type": "rule", "color": "#000"},
 "encoding": {"xOffset": {"field": "t", "type": "nominal"}, "y": {"field": "v", "type": "quantitative"}, "y2": {"field": "err"}}},
{"transform": [{"filter": "datum.k === 'bar'"}], "mark": {"type": "tick", "color": "#000", "size": 7, "thickness": 1},
 "encoding": {"xOffset": {"field": "t", "type": "nominal"}, "y": {"field": "err", "type": "quantitative"}}},
{"transform": [{"filter": "datum.k === 'star'"}], "mark": {"type": "text", "fontSize": 11, "color": "#505050", "dy": 3},
 "encoding": {"xOffset": {"field": "t", "type": "nominal"}, "y": {"field": "y", "type": "quantitative"}, "text": {"field": "label"}}},
{"transform": [{"filter": "datum.k === 'mid'"}], "mark": {"type": "text", "fontSize": 11, "color": "#505050", "dy": 3},
 "encoding": {"y": {"field": "y", "type": "quantitative"}, "text": {"field": "label"}}},
{"transform": [{"filter": "datum.k === 'sig'"}], "mark": {"type": "tick", "color": "#555555", "size": 20, "thickness": 1},
 "encoding": {"y": {"field": "y", "type": "quantitative"}}},
{"transform": [{"filter": "datum.k === 'bar' && datum.cat === 'Vehicle' && datum.t === '24h'"}], "mark": {"type": "rule", "color": "#000"},
 "encoding": {"x": {"field": "cat", "type": "nominal", "bandPosition": 0, "scale": {"domain": ["Vehicle","AZA 100 μM","CIS 100 μM","CP 100 μM","DOX 100 nM","MTX 100 nM","TAX 100 nM"]}}, "y": {"datum": 0}, "y2": {"datum": -1.3}}},
{"transform": [{"filter": "datum.k === 'bar' && datum.cat === 'TAX 100 nM' && datum.t === '24h'"}], "mark": {"type": "rule", "color": "#000"},
 "encoding": {"x": {"field": "cat", "type": "nominal", "bandPosition": 1, "scale": {"domain": ["Vehicle","AZA 100 μM","CIS 100 μM","CP 100 μM","DOX 100 nM","MTX 100 nM","TAX 100 nM"]}}, "y": {"datum": 0}, "y2": {"datum": -1.3}}}
]
}
 ]},
{"spacing": 8,
 "resolve": {"scale": {"x": "independent", "y": "independent", "xOffset": "independent", "fill": "independent"}, "legend": {"fill": "independent"}},
 "vconcat": [
 {"spacing": 20,
  "resolve": {"scale": {"x": "independent", "y": "independent", "xOffset": "independent", "fill": "independent"}, "legend": {"fill": "independent"}},
  "vconcat": [
{
"width": 225, "height": 129,
"title": {"text": "B", "offset": -1},
"data": {"name": "d"},
"transform": [{"filter": "datum.p === 'B'"}],
"encoding": {"x": {"field": "cat", "type": "nominal", "scale": {"domain": ["Vehicle","AZA 100 μM","CIS 100 μM","CP 100 μM","DOX 100 nM","MTX 100 nM","TAX 100 nM"], "paddingInner": 0, "paddingOuter": 0}, "axis": {"title": "MCF7-GFP-ARE(luc) + hTERT-BJ1 coculture", "tickSize": 71, "labelPadding": -62, "titlePadding": 13, "labelAngle": -90, "tickBand": "extent", "labelOverlap": false}}},
"layer": [
{"transform": [{"filter": "datum.k === 'bar' && datum.cat !== 'Vehicle'"}], "mark": {"type": "bar", "stroke": "#000", "strokeWidth": 1},
 "encoding": {"xOffset": {"field": "t", "type": "nominal", "scale": {"domain": ["24h","48h"], "paddingInner": 0, "paddingOuter": 0.25}},
  "y": {"field": "v", "type": "quantitative", "scale": {"domain": [0, 1.2]}, "axis": {"title": ["Luciferase activity (normalisedto", "GFP and monoculture)"], "titleY": 97, "tickCount": 30, "labelOverlap": false, "values": [0,0.2,0.4,0.6,0.8,1,1.2]}},
  "fill": {"field": "t", "type": "nominal", "scale": {"domain": ["24h","48h"], "range": ["#ffffff","#808080"]}, "legend": {"title": null, "legendX": 232, "legendY": 37}}}},
{"transform": [{"filter": "datum.k === 'bar' && datum.cat === 'Vehicle' && datum.t === '24h'"}], "mark": {"type": "bar", "stroke": "#000", "strokeWidth": 1, "fill": {"gradient": "linear", "x1": 0.3, "y1": 1, "x2": 0, "y2": 0, "stops": [{"offset":0,"color":"#f2f2f2"},{"offset":0.0375,"color":"#f2f2f2"},{"offset":0.0375,"color":"#9c9c9c"},{"offset":0.0625,"color":"#9c9c9c"},{"offset":0.0625,"color":"#f2f2f2"},{"offset":0.1,"color":"#f2f2f2"},{"offset":0.1,"color":"#9c9c9c"},{"offset":0.125,"color":"#9c9c9c"},{"offset":0.125,"color":"#f2f2f2"},{"offset":0.1625,"color":"#f2f2f2"},{"offset":0.1625,"color":"#9c9c9c"},{"offset":0.1875,"color":"#9c9c9c"},{"offset":0.1875,"color":"#f2f2f2"},{"offset":0.225,"color":"#f2f2f2"},{"offset":0.225,"color":"#9c9c9c"},{"offset":0.25,"color":"#9c9c9c"},{"offset":0.25,"color":"#f2f2f2"},{"offset":0.2875,"color":"#f2f2f2"},{"offset":0.2875,"color":"#9c9c9c"},{"offset":0.3125,"color":"#9c9c9c"},{"offset":0.3125,"color":"#f2f2f2"},{"offset":0.35,"color":"#f2f2f2"},{"offset":0.35,"color":"#9c9c9c"},{"offset":0.375,"color":"#9c9c9c"},{"offset":0.375,"color":"#f2f2f2"},{"offset":0.4125,"color":"#f2f2f2"},{"offset":0.4125,"color":"#9c9c9c"},{"offset":0.4375,"color":"#9c9c9c"},{"offset":0.4375,"color":"#f2f2f2"},{"offset":0.475,"color":"#f2f2f2"},{"offset":0.475,"color":"#9c9c9c"},{"offset":0.5,"color":"#9c9c9c"},{"offset":0.5,"color":"#f2f2f2"},{"offset":0.5375,"color":"#f2f2f2"},{"offset":0.5375,"color":"#9c9c9c"},{"offset":0.5625,"color":"#9c9c9c"},{"offset":0.5625,"color":"#f2f2f2"},{"offset":0.6,"color":"#f2f2f2"},{"offset":0.6,"color":"#9c9c9c"},{"offset":0.625,"color":"#9c9c9c"},{"offset":0.625,"color":"#f2f2f2"},{"offset":0.6625,"color":"#f2f2f2"},{"offset":0.6625,"color":"#9c9c9c"},{"offset":0.6875,"color":"#9c9c9c"},{"offset":0.6875,"color":"#f2f2f2"},{"offset":0.725,"color":"#f2f2f2"},{"offset":0.725,"color":"#9c9c9c"},{"offset":0.75,"color":"#9c9c9c"},{"offset":0.75,"color":"#f2f2f2"},{"offset":0.7875,"color":"#f2f2f2"},{"offset":0.7875,"color":"#9c9c9c"},{"offset":0.8125,"color":"#9c9c9c"},{"offset":0.8125,"color":"#f2f2f2"},{"offset":0.85,"color":"#f2f2f2"},{"offset":0.85,"color":"#9c9c9c"},{"offset":0.875,"color":"#9c9c9c"},{"offset":0.875,"color":"#f2f2f2"},{"offset":0.9125,"color":"#f2f2f2"},{"offset":0.9125,"color":"#9c9c9c"},{"offset":0.9375,"color":"#9c9c9c"},{"offset":0.9375,"color":"#f2f2f2"},{"offset":0.975,"color":"#f2f2f2"},{"offset":0.975,"color":"#9c9c9c"},{"offset":1,"color":"#9c9c9c"}]}},
 "encoding": {"xOffset": {"field": "t", "type": "nominal"}, "y": {"field": "v", "type": "quantitative"}}},
{"transform": [{"filter": "datum.k === 'bar' && datum.cat === 'Vehicle' && datum.t === '48h'"}], "mark": {"type": "bar", "stroke": "#000", "strokeWidth": 1, "fill": {"gradient": "linear", "x1": 0.3, "y1": 1, "x2": 0, "y2": 0, "stops": [{"offset":0,"color":"#7f7f7f"},{"offset":0.0375,"color":"#7f7f7f"},{"offset":0.0375,"color":"#262626"},{"offset":0.0625,"color":"#262626"},{"offset":0.0625,"color":"#7f7f7f"},{"offset":0.1,"color":"#7f7f7f"},{"offset":0.1,"color":"#262626"},{"offset":0.125,"color":"#262626"},{"offset":0.125,"color":"#7f7f7f"},{"offset":0.1625,"color":"#7f7f7f"},{"offset":0.1625,"color":"#262626"},{"offset":0.1875,"color":"#262626"},{"offset":0.1875,"color":"#7f7f7f"},{"offset":0.225,"color":"#7f7f7f"},{"offset":0.225,"color":"#262626"},{"offset":0.25,"color":"#262626"},{"offset":0.25,"color":"#7f7f7f"},{"offset":0.2875,"color":"#7f7f7f"},{"offset":0.2875,"color":"#262626"},{"offset":0.3125,"color":"#262626"},{"offset":0.3125,"color":"#7f7f7f"},{"offset":0.35,"color":"#7f7f7f"},{"offset":0.35,"color":"#262626"},{"offset":0.375,"color":"#262626"},{"offset":0.375,"color":"#7f7f7f"},{"offset":0.4125,"color":"#7f7f7f"},{"offset":0.4125,"color":"#262626"},{"offset":0.4375,"color":"#262626"},{"offset":0.4375,"color":"#7f7f7f"},{"offset":0.475,"color":"#7f7f7f"},{"offset":0.475,"color":"#262626"},{"offset":0.5,"color":"#262626"},{"offset":0.5,"color":"#7f7f7f"},{"offset":0.5375,"color":"#7f7f7f"},{"offset":0.5375,"color":"#262626"},{"offset":0.5625,"color":"#262626"},{"offset":0.5625,"color":"#7f7f7f"},{"offset":0.6,"color":"#7f7f7f"},{"offset":0.6,"color":"#262626"},{"offset":0.625,"color":"#262626"},{"offset":0.625,"color":"#7f7f7f"},{"offset":0.6625,"color":"#7f7f7f"},{"offset":0.6625,"color":"#262626"},{"offset":0.6875,"color":"#262626"},{"offset":0.6875,"color":"#7f7f7f"},{"offset":0.725,"color":"#7f7f7f"},{"offset":0.725,"color":"#262626"},{"offset":0.75,"color":"#262626"},{"offset":0.75,"color":"#7f7f7f"},{"offset":0.7875,"color":"#7f7f7f"},{"offset":0.7875,"color":"#262626"},{"offset":0.8125,"color":"#262626"},{"offset":0.8125,"color":"#7f7f7f"},{"offset":0.85,"color":"#7f7f7f"},{"offset":0.85,"color":"#262626"},{"offset":0.875,"color":"#262626"},{"offset":0.875,"color":"#7f7f7f"},{"offset":0.9125,"color":"#7f7f7f"},{"offset":0.9125,"color":"#262626"},{"offset":0.9375,"color":"#262626"},{"offset":0.9375,"color":"#7f7f7f"},{"offset":0.975,"color":"#7f7f7f"},{"offset":0.975,"color":"#262626"},{"offset":1,"color":"#262626"}]}},
 "encoding": {"xOffset": {"field": "t", "type": "nominal"}, "y": {"field": "v", "type": "quantitative"}}},
{"transform": [{"filter": "datum.k === 'bar' && datum.cat === 'Vehicle' && datum.t === '24h'"}], "mark": {"type": "rule", "color": "#000", "strokeDash": [4, 3]},
 "encoding": {"x": {"value": 0}, "x2": {"value": "width"}, "y": {"datum": 1}}},
{"transform": [{"filter": "datum.k === 'bar'"}], "mark": {"type": "rule", "color": "#000"},
 "encoding": {"xOffset": {"field": "t", "type": "nominal"}, "y": {"field": "v", "type": "quantitative"}, "y2": {"field": "err"}}},
{"transform": [{"filter": "datum.k === 'bar'"}], "mark": {"type": "tick", "color": "#000", "size": 7, "thickness": 1},
 "encoding": {"xOffset": {"field": "t", "type": "nominal"}, "y": {"field": "err", "type": "quantitative"}}},
{"transform": [{"filter": "datum.k === 'star'"}], "mark": {"type": "text", "fontSize": 11, "color": "#505050", "dy": 3},
 "encoding": {"xOffset": {"field": "t", "type": "nominal"}, "y": {"field": "y", "type": "quantitative"}, "text": {"field": "label"}}},
{"transform": [{"filter": "datum.k === 'bar' && datum.cat === 'TAX 100 nM' && datum.t === '24h'"}], "mark": {"type": "text", "align": "left", "dx": 3, "fontSize": 12, "text": "Monocult"},
 "encoding": {"x": {"field": "cat", "type": "nominal", "bandPosition": 1, "scale": {"domain": ["Vehicle","AZA 100 μM","CIS 100 μM","CP 100 μM","DOX 100 nM","MTX 100 nM","TAX 100 nM"]}}, "y": {"datum": 1}}},
{"transform": [{"filter": "datum.k === 'bar' && datum.cat === 'Vehicle' && datum.t === '24h'"}], "mark": {"type": "rule", "color": "#000"},
 "encoding": {"x": {"field": "cat", "type": "nominal", "bandPosition": 0, "scale": {"domain": ["Vehicle","AZA 100 μM","CIS 100 μM","CP 100 μM","DOX 100 nM","MTX 100 nM","TAX 100 nM"]}}, "y": {"datum": 0}, "y2": {"datum": -0.93}}},
{"transform": [{"filter": "datum.k === 'bar' && datum.cat === 'TAX 100 nM' && datum.t === '24h'"}], "mark": {"type": "rule", "color": "#000"},
 "encoding": {"x": {"field": "cat", "type": "nominal", "bandPosition": 1, "scale": {"domain": ["Vehicle","AZA 100 μM","CIS 100 μM","CP 100 μM","DOX 100 nM","MTX 100 nM","TAX 100 nM"]}}, "y": {"datum": 0}, "y2": {"datum": -0.93}}}
]
},
{
"width": 225, "height": 119,
"title": {"text": "D", "offset": 3},
"data": {"name": "d"},
"transform": [{"filter": "datum.p === 'D'"}],
"encoding": {"x": {"field": "cat", "type": "nominal", "scale": {"domain": ["Vehicle","AZA 100 μM","CIS 100 μM","CP 100 μM","DOX 100 nM","MTX 100 nM","TAX 100 nM"], "paddingInner": 0, "paddingOuter": 0}, "axis": {"title": "MCF7-GFP-ISRE(luc) + hTERT-BJ1 coculture", "tickSize": 75, "labelPadding": -66, "titlePadding": 3, "labelAngle": -90, "tickBand": "extent", "labelOverlap": false}}},
"layer": [
{"transform": [{"filter": "datum.k === 'bar' && datum.cat !== 'Vehicle'"}], "mark": {"type": "bar", "stroke": "#000", "strokeWidth": 1},
 "encoding": {"xOffset": {"field": "t", "type": "nominal", "scale": {"domain": ["24h","48h"], "paddingInner": 0, "paddingOuter": 0.25}},
  "y": {"field": "v", "type": "quantitative", "scale": {"domain": [0, 6]}, "axis": {"title": ["Luciferase activity (normalised", "to GFP and monoculture)"], "titleY": 96, "tickCount": 30, "labelOverlap": false, "values": [0,1,2,3,4,5,6]}},
  "fill": {"field": "t", "type": "nominal", "scale": {"domain": ["24h","48h"], "range": ["#ffffff","#808080"]}, "legend": {"title": null, "legendX": 232, "legendY": 32}}}},
{"transform": [{"filter": "datum.k === 'bar' && datum.cat === 'Vehicle' && datum.t === '24h'"}], "mark": {"type": "bar", "stroke": "#000", "strokeWidth": 1, "fill": {"gradient": "linear", "x1": 0.3, "y1": 1, "x2": 0, "y2": 0, "stops": [{"offset":0,"color":"#f2f2f2"},{"offset":0.0375,"color":"#f2f2f2"},{"offset":0.0375,"color":"#9c9c9c"},{"offset":0.0625,"color":"#9c9c9c"},{"offset":0.0625,"color":"#f2f2f2"},{"offset":0.1,"color":"#f2f2f2"},{"offset":0.1,"color":"#9c9c9c"},{"offset":0.125,"color":"#9c9c9c"},{"offset":0.125,"color":"#f2f2f2"},{"offset":0.1625,"color":"#f2f2f2"},{"offset":0.1625,"color":"#9c9c9c"},{"offset":0.1875,"color":"#9c9c9c"},{"offset":0.1875,"color":"#f2f2f2"},{"offset":0.225,"color":"#f2f2f2"},{"offset":0.225,"color":"#9c9c9c"},{"offset":0.25,"color":"#9c9c9c"},{"offset":0.25,"color":"#f2f2f2"},{"offset":0.2875,"color":"#f2f2f2"},{"offset":0.2875,"color":"#9c9c9c"},{"offset":0.3125,"color":"#9c9c9c"},{"offset":0.3125,"color":"#f2f2f2"},{"offset":0.35,"color":"#f2f2f2"},{"offset":0.35,"color":"#9c9c9c"},{"offset":0.375,"color":"#9c9c9c"},{"offset":0.375,"color":"#f2f2f2"},{"offset":0.4125,"color":"#f2f2f2"},{"offset":0.4125,"color":"#9c9c9c"},{"offset":0.4375,"color":"#9c9c9c"},{"offset":0.4375,"color":"#f2f2f2"},{"offset":0.475,"color":"#f2f2f2"},{"offset":0.475,"color":"#9c9c9c"},{"offset":0.5,"color":"#9c9c9c"},{"offset":0.5,"color":"#f2f2f2"},{"offset":0.5375,"color":"#f2f2f2"},{"offset":0.5375,"color":"#9c9c9c"},{"offset":0.5625,"color":"#9c9c9c"},{"offset":0.5625,"color":"#f2f2f2"},{"offset":0.6,"color":"#f2f2f2"},{"offset":0.6,"color":"#9c9c9c"},{"offset":0.625,"color":"#9c9c9c"},{"offset":0.625,"color":"#f2f2f2"},{"offset":0.6625,"color":"#f2f2f2"},{"offset":0.6625,"color":"#9c9c9c"},{"offset":0.6875,"color":"#9c9c9c"},{"offset":0.6875,"color":"#f2f2f2"},{"offset":0.725,"color":"#f2f2f2"},{"offset":0.725,"color":"#9c9c9c"},{"offset":0.75,"color":"#9c9c9c"},{"offset":0.75,"color":"#f2f2f2"},{"offset":0.7875,"color":"#f2f2f2"},{"offset":0.7875,"color":"#9c9c9c"},{"offset":0.8125,"color":"#9c9c9c"},{"offset":0.8125,"color":"#f2f2f2"},{"offset":0.85,"color":"#f2f2f2"},{"offset":0.85,"color":"#9c9c9c"},{"offset":0.875,"color":"#9c9c9c"},{"offset":0.875,"color":"#f2f2f2"},{"offset":0.9125,"color":"#f2f2f2"},{"offset":0.9125,"color":"#9c9c9c"},{"offset":0.9375,"color":"#9c9c9c"},{"offset":0.9375,"color":"#f2f2f2"},{"offset":0.975,"color":"#f2f2f2"},{"offset":0.975,"color":"#9c9c9c"},{"offset":1,"color":"#9c9c9c"}]}},
 "encoding": {"xOffset": {"field": "t", "type": "nominal"}, "y": {"field": "v", "type": "quantitative"}}},
{"transform": [{"filter": "datum.k === 'bar' && datum.cat === 'Vehicle' && datum.t === '48h'"}], "mark": {"type": "bar", "stroke": "#000", "strokeWidth": 1, "fill": {"gradient": "linear", "x1": 0.3, "y1": 1, "x2": 0, "y2": 0, "stops": [{"offset":0,"color":"#7f7f7f"},{"offset":0.0375,"color":"#7f7f7f"},{"offset":0.0375,"color":"#262626"},{"offset":0.0625,"color":"#262626"},{"offset":0.0625,"color":"#7f7f7f"},{"offset":0.1,"color":"#7f7f7f"},{"offset":0.1,"color":"#262626"},{"offset":0.125,"color":"#262626"},{"offset":0.125,"color":"#7f7f7f"},{"offset":0.1625,"color":"#7f7f7f"},{"offset":0.1625,"color":"#262626"},{"offset":0.1875,"color":"#262626"},{"offset":0.1875,"color":"#7f7f7f"},{"offset":0.225,"color":"#7f7f7f"},{"offset":0.225,"color":"#262626"},{"offset":0.25,"color":"#262626"},{"offset":0.25,"color":"#7f7f7f"},{"offset":0.2875,"color":"#7f7f7f"},{"offset":0.2875,"color":"#262626"},{"offset":0.3125,"color":"#262626"},{"offset":0.3125,"color":"#7f7f7f"},{"offset":0.35,"color":"#7f7f7f"},{"offset":0.35,"color":"#262626"},{"offset":0.375,"color":"#262626"},{"offset":0.375,"color":"#7f7f7f"},{"offset":0.4125,"color":"#7f7f7f"},{"offset":0.4125,"color":"#262626"},{"offset":0.4375,"color":"#262626"},{"offset":0.4375,"color":"#7f7f7f"},{"offset":0.475,"color":"#7f7f7f"},{"offset":0.475,"color":"#262626"},{"offset":0.5,"color":"#262626"},{"offset":0.5,"color":"#7f7f7f"},{"offset":0.5375,"color":"#7f7f7f"},{"offset":0.5375,"color":"#262626"},{"offset":0.5625,"color":"#262626"},{"offset":0.5625,"color":"#7f7f7f"},{"offset":0.6,"color":"#7f7f7f"},{"offset":0.6,"color":"#262626"},{"offset":0.625,"color":"#262626"},{"offset":0.625,"color":"#7f7f7f"},{"offset":0.6625,"color":"#7f7f7f"},{"offset":0.6625,"color":"#262626"},{"offset":0.6875,"color":"#262626"},{"offset":0.6875,"color":"#7f7f7f"},{"offset":0.725,"color":"#7f7f7f"},{"offset":0.725,"color":"#262626"},{"offset":0.75,"color":"#262626"},{"offset":0.75,"color":"#7f7f7f"},{"offset":0.7875,"color":"#7f7f7f"},{"offset":0.7875,"color":"#262626"},{"offset":0.8125,"color":"#262626"},{"offset":0.8125,"color":"#7f7f7f"},{"offset":0.85,"color":"#7f7f7f"},{"offset":0.85,"color":"#262626"},{"offset":0.875,"color":"#262626"},{"offset":0.875,"color":"#7f7f7f"},{"offset":0.9125,"color":"#7f7f7f"},{"offset":0.9125,"color":"#262626"},{"offset":0.9375,"color":"#262626"},{"offset":0.9375,"color":"#7f7f7f"},{"offset":0.975,"color":"#7f7f7f"},{"offset":0.975,"color":"#262626"},{"offset":1,"color":"#262626"}]}},
 "encoding": {"xOffset": {"field": "t", "type": "nominal"}, "y": {"field": "v", "type": "quantitative"}}},
{"transform": [{"filter": "datum.k === 'bar' && datum.cat === 'Vehicle' && datum.t === '24h'"}], "mark": {"type": "rule", "color": "#000", "strokeDash": [4, 3]},
 "encoding": {"x": {"value": 0}, "x2": {"value": "width"}, "y": {"datum": 1}}},
{"transform": [{"filter": "datum.k === 'bar'"}], "mark": {"type": "rule", "color": "#000"},
 "encoding": {"xOffset": {"field": "t", "type": "nominal"}, "y": {"field": "v", "type": "quantitative"}, "y2": {"field": "err"}}},
{"transform": [{"filter": "datum.k === 'bar'"}], "mark": {"type": "tick", "color": "#000", "size": 7, "thickness": 1},
 "encoding": {"xOffset": {"field": "t", "type": "nominal"}, "y": {"field": "err", "type": "quantitative"}}},
{"transform": [{"filter": "datum.k === 'star'"}], "mark": {"type": "text", "fontSize": 11, "color": "#505050", "dy": 3},
 "encoding": {"xOffset": {"field": "t", "type": "nominal"}, "y": {"field": "y", "type": "quantitative"}, "text": {"field": "label"}}},
{"transform": [{"filter": "datum.k === 'bar' && datum.cat === 'TAX 100 nM' && datum.t === '24h'"}], "mark": {"type": "text", "align": "left", "dx": 3, "fontSize": 12, "text": "Monocult"},
 "encoding": {"x": {"field": "cat", "type": "nominal", "bandPosition": 1, "scale": {"domain": ["Vehicle","AZA 100 μM","CIS 100 μM","CP 100 μM","DOX 100 nM","MTX 100 nM","TAX 100 nM"]}}, "y": {"datum": 1}}},
{"transform": [{"filter": "datum.k === 'bar' && datum.cat === 'Vehicle' && datum.t === '24h'"}], "mark": {"type": "rule", "color": "#000"},
 "encoding": {"x": {"field": "cat", "type": "nominal", "bandPosition": 0, "scale": {"domain": ["Vehicle","AZA 100 μM","CIS 100 μM","CP 100 μM","DOX 100 nM","MTX 100 nM","TAX 100 nM"]}}, "y": {"datum": 0}, "y2": {"datum": -5.45}}},
{"transform": [{"filter": "datum.k === 'bar' && datum.cat === 'TAX 100 nM' && datum.t === '24h'"}], "mark": {"type": "rule", "color": "#000"},
 "encoding": {"x": {"field": "cat", "type": "nominal", "bandPosition": 1, "scale": {"domain": ["Vehicle","AZA 100 μM","CIS 100 μM","CP 100 μM","DOX 100 nM","MTX 100 nM","TAX 100 nM"]}}, "y": {"datum": 0}, "y2": {"datum": -5.45}}}
]
}
 ]},
{
"width": 225, "height": 111,
"title": {"text": "F", "offset": -5},
"data": {"name": "d"},
"transform": [{"filter": "datum.p === 'F'"}],
"encoding": {"x": {"field": "cat", "type": "nominal", "scale": {"domain": ["Vehicle","AZA 100 μM","CIS 100 μM","CP 100 μM","DOX 100 nM","MTX 100 nM","TAX 100 nM"], "paddingInner": 0, "paddingOuter": 0}, "axis": {"title": "MCF7-GFP-GAS(luc) + hTERT-BJ1 coculture", "tickSize": 83, "labelPadding": -74, "titlePadding": 1, "labelAngle": -90, "tickBand": "extent", "labelOverlap": false}}},
"layer": [
{"transform": [{"filter": "datum.k === 'bar' && datum.cat !== 'Vehicle'"}], "mark": {"type": "bar", "stroke": "#000", "strokeWidth": 1},
 "encoding": {"xOffset": {"field": "t", "type": "nominal", "scale": {"domain": ["24h","48h"], "paddingInner": 0, "paddingOuter": 0.25}},
  "y": {"field": "v", "type": "quantitative", "scale": {"domain": [0, 2]}, "axis": {"title": ["Luciferase activity (normalised", "to GFP and monoculture)"], "titleY": 103, "tickCount": 30, "labelFontSize": 10, "labelOverlap": false, "values": [0,0.2,0.4,0.6,0.8,1,1.2,1.4,1.6,1.8,2]}},
  "fill": {"field": "t", "type": "nominal", "scale": {"domain": ["24h","48h"], "range": ["#ffffff","#808080"]}, "legend": {"title": null, "legendX": 232, "legendY": 12}}}},
{"transform": [{"filter": "datum.k === 'bar' && datum.cat === 'Vehicle' && datum.t === '24h'"}], "mark": {"type": "bar", "stroke": "#000", "strokeWidth": 1, "fill": {"gradient": "linear", "x1": 0.3, "y1": 1, "x2": 0, "y2": 0, "stops": [{"offset":0,"color":"#f2f2f2"},{"offset":0.0375,"color":"#f2f2f2"},{"offset":0.0375,"color":"#9c9c9c"},{"offset":0.0625,"color":"#9c9c9c"},{"offset":0.0625,"color":"#f2f2f2"},{"offset":0.1,"color":"#f2f2f2"},{"offset":0.1,"color":"#9c9c9c"},{"offset":0.125,"color":"#9c9c9c"},{"offset":0.125,"color":"#f2f2f2"},{"offset":0.1625,"color":"#f2f2f2"},{"offset":0.1625,"color":"#9c9c9c"},{"offset":0.1875,"color":"#9c9c9c"},{"offset":0.1875,"color":"#f2f2f2"},{"offset":0.225,"color":"#f2f2f2"},{"offset":0.225,"color":"#9c9c9c"},{"offset":0.25,"color":"#9c9c9c"},{"offset":0.25,"color":"#f2f2f2"},{"offset":0.2875,"color":"#f2f2f2"},{"offset":0.2875,"color":"#9c9c9c"},{"offset":0.3125,"color":"#9c9c9c"},{"offset":0.3125,"color":"#f2f2f2"},{"offset":0.35,"color":"#f2f2f2"},{"offset":0.35,"color":"#9c9c9c"},{"offset":0.375,"color":"#9c9c9c"},{"offset":0.375,"color":"#f2f2f2"},{"offset":0.4125,"color":"#f2f2f2"},{"offset":0.4125,"color":"#9c9c9c"},{"offset":0.4375,"color":"#9c9c9c"},{"offset":0.4375,"color":"#f2f2f2"},{"offset":0.475,"color":"#f2f2f2"},{"offset":0.475,"color":"#9c9c9c"},{"offset":0.5,"color":"#9c9c9c"},{"offset":0.5,"color":"#f2f2f2"},{"offset":0.5375,"color":"#f2f2f2"},{"offset":0.5375,"color":"#9c9c9c"},{"offset":0.5625,"color":"#9c9c9c"},{"offset":0.5625,"color":"#f2f2f2"},{"offset":0.6,"color":"#f2f2f2"},{"offset":0.6,"color":"#9c9c9c"},{"offset":0.625,"color":"#9c9c9c"},{"offset":0.625,"color":"#f2f2f2"},{"offset":0.6625,"color":"#f2f2f2"},{"offset":0.6625,"color":"#9c9c9c"},{"offset":0.6875,"color":"#9c9c9c"},{"offset":0.6875,"color":"#f2f2f2"},{"offset":0.725,"color":"#f2f2f2"},{"offset":0.725,"color":"#9c9c9c"},{"offset":0.75,"color":"#9c9c9c"},{"offset":0.75,"color":"#f2f2f2"},{"offset":0.7875,"color":"#f2f2f2"},{"offset":0.7875,"color":"#9c9c9c"},{"offset":0.8125,"color":"#9c9c9c"},{"offset":0.8125,"color":"#f2f2f2"},{"offset":0.85,"color":"#f2f2f2"},{"offset":0.85,"color":"#9c9c9c"},{"offset":0.875,"color":"#9c9c9c"},{"offset":0.875,"color":"#f2f2f2"},{"offset":0.9125,"color":"#f2f2f2"},{"offset":0.9125,"color":"#9c9c9c"},{"offset":0.9375,"color":"#9c9c9c"},{"offset":0.9375,"color":"#f2f2f2"},{"offset":0.975,"color":"#f2f2f2"},{"offset":0.975,"color":"#9c9c9c"},{"offset":1,"color":"#9c9c9c"}]}},
 "encoding": {"xOffset": {"field": "t", "type": "nominal"}, "y": {"field": "v", "type": "quantitative"}}},
{"transform": [{"filter": "datum.k === 'bar' && datum.cat === 'Vehicle' && datum.t === '48h'"}], "mark": {"type": "bar", "stroke": "#000", "strokeWidth": 1, "fill": {"gradient": "linear", "x1": 0.3, "y1": 1, "x2": 0, "y2": 0, "stops": [{"offset":0,"color":"#7f7f7f"},{"offset":0.0375,"color":"#7f7f7f"},{"offset":0.0375,"color":"#262626"},{"offset":0.0625,"color":"#262626"},{"offset":0.0625,"color":"#7f7f7f"},{"offset":0.1,"color":"#7f7f7f"},{"offset":0.1,"color":"#262626"},{"offset":0.125,"color":"#262626"},{"offset":0.125,"color":"#7f7f7f"},{"offset":0.1625,"color":"#7f7f7f"},{"offset":0.1625,"color":"#262626"},{"offset":0.1875,"color":"#262626"},{"offset":0.1875,"color":"#7f7f7f"},{"offset":0.225,"color":"#7f7f7f"},{"offset":0.225,"color":"#262626"},{"offset":0.25,"color":"#262626"},{"offset":0.25,"color":"#7f7f7f"},{"offset":0.2875,"color":"#7f7f7f"},{"offset":0.2875,"color":"#262626"},{"offset":0.3125,"color":"#262626"},{"offset":0.3125,"color":"#7f7f7f"},{"offset":0.35,"color":"#7f7f7f"},{"offset":0.35,"color":"#262626"},{"offset":0.375,"color":"#262626"},{"offset":0.375,"color":"#7f7f7f"},{"offset":0.4125,"color":"#7f7f7f"},{"offset":0.4125,"color":"#262626"},{"offset":0.4375,"color":"#262626"},{"offset":0.4375,"color":"#7f7f7f"},{"offset":0.475,"color":"#7f7f7f"},{"offset":0.475,"color":"#262626"},{"offset":0.5,"color":"#262626"},{"offset":0.5,"color":"#7f7f7f"},{"offset":0.5375,"color":"#7f7f7f"},{"offset":0.5375,"color":"#262626"},{"offset":0.5625,"color":"#262626"},{"offset":0.5625,"color":"#7f7f7f"},{"offset":0.6,"color":"#7f7f7f"},{"offset":0.6,"color":"#262626"},{"offset":0.625,"color":"#262626"},{"offset":0.625,"color":"#7f7f7f"},{"offset":0.6625,"color":"#7f7f7f"},{"offset":0.6625,"color":"#262626"},{"offset":0.6875,"color":"#262626"},{"offset":0.6875,"color":"#7f7f7f"},{"offset":0.725,"color":"#7f7f7f"},{"offset":0.725,"color":"#262626"},{"offset":0.75,"color":"#262626"},{"offset":0.75,"color":"#7f7f7f"},{"offset":0.7875,"color":"#7f7f7f"},{"offset":0.7875,"color":"#262626"},{"offset":0.8125,"color":"#262626"},{"offset":0.8125,"color":"#7f7f7f"},{"offset":0.85,"color":"#7f7f7f"},{"offset":0.85,"color":"#262626"},{"offset":0.875,"color":"#262626"},{"offset":0.875,"color":"#7f7f7f"},{"offset":0.9125,"color":"#7f7f7f"},{"offset":0.9125,"color":"#262626"},{"offset":0.9375,"color":"#262626"},{"offset":0.9375,"color":"#7f7f7f"},{"offset":0.975,"color":"#7f7f7f"},{"offset":0.975,"color":"#262626"},{"offset":1,"color":"#262626"}]}},
 "encoding": {"xOffset": {"field": "t", "type": "nominal"}, "y": {"field": "v", "type": "quantitative"}}},
{"transform": [{"filter": "datum.k === 'bar' && datum.cat === 'Vehicle' && datum.t === '24h'"}], "mark": {"type": "rule", "color": "#000", "strokeDash": [4, 3]},
 "encoding": {"x": {"value": 0}, "x2": {"value": "width"}, "y": {"datum": 1}}},
{"transform": [{"filter": "datum.k === 'bar'"}], "mark": {"type": "rule", "color": "#000"},
 "encoding": {"xOffset": {"field": "t", "type": "nominal"}, "y": {"field": "v", "type": "quantitative"}, "y2": {"field": "err"}}},
{"transform": [{"filter": "datum.k === 'bar'"}], "mark": {"type": "tick", "color": "#000", "size": 7, "thickness": 1},
 "encoding": {"xOffset": {"field": "t", "type": "nominal"}, "y": {"field": "err", "type": "quantitative"}}},
{"transform": [{"filter": "datum.k === 'star'"}], "mark": {"type": "text", "fontSize": 11, "color": "#505050", "dy": 3},
 "encoding": {"xOffset": {"field": "t", "type": "nominal"}, "y": {"field": "y", "type": "quantitative"}, "text": {"field": "label"}}},
{"transform": [{"filter": "datum.k === 'bar' && datum.cat === 'TAX 100 nM' && datum.t === '24h'"}], "mark": {"type": "text", "align": "left", "dx": 3, "fontSize": 12, "text": "Monocult"},
 "encoding": {"x": {"field": "cat", "type": "nominal", "bandPosition": 1, "scale": {"domain": ["Vehicle","AZA 100 μM","CIS 100 μM","CP 100 μM","DOX 100 nM","MTX 100 nM","TAX 100 nM"]}}, "y": {"datum": 1}}},
{"transform": [{"filter": "datum.k === 'bar' && datum.cat === 'Vehicle' && datum.t === '24h'"}], "mark": {"type": "rule", "color": "#000"},
 "encoding": {"x": {"field": "cat", "type": "nominal", "bandPosition": 0, "scale": {"domain": ["Vehicle","AZA 100 μM","CIS 100 μM","CP 100 μM","DOX 100 nM","MTX 100 nM","TAX 100 nM"]}}, "y": {"datum": 0}, "y2": {"datum": -1.78}}},
{"transform": [{"filter": "datum.k === 'bar' && datum.cat === 'TAX 100 nM' && datum.t === '24h'"}], "mark": {"type": "rule", "color": "#000"},
 "encoding": {"x": {"field": "cat", "type": "nominal", "bandPosition": 1, "scale": {"domain": ["Vehicle","AZA 100 μM","CIS 100 μM","CP 100 μM","DOX 100 nM","MTX 100 nM","TAX 100 nM"]}}, "y": {"datum": 0}, "y2": {"datum": -1.78}}}
]
}
 ]}
],
"config": {
"font": "Lato",
"view": {"stroke": null},
"axis": {"domainColor": "#000", "tickColor": "#000", "labelColor": "#000", "titleColor": "#000", "grid": false, "labelOverlap": false},
"axisX": {"labelFontSize": 11, "titleFontSize": 11.5, "titleFontWeight": "normal"},
"axisY": {"ticks": false, "labelFontSize": 11, "labelPadding": 13, "titleFontSize": 12, "titleFontWeight": "bold", "titleLineHeight": 16, "titlePadding": 4, "format": ".1f", "labelOverlap": false},
"title": {"anchor": "start", "frame": "bounds", "fontSize": 13, "fontWeight": "bold", "color": "#000"},
"legend": {"orient": "none", "symbolType": "square", "symbolSize": 100, "symbolStrokeColor": "#000", "symbolStrokeWidth": 1, "labelFontSize": 13, "labelColor": "#000", "rowPadding": 8, "labelOffset": 3},
"text": {"color": "#000"}
}
}
